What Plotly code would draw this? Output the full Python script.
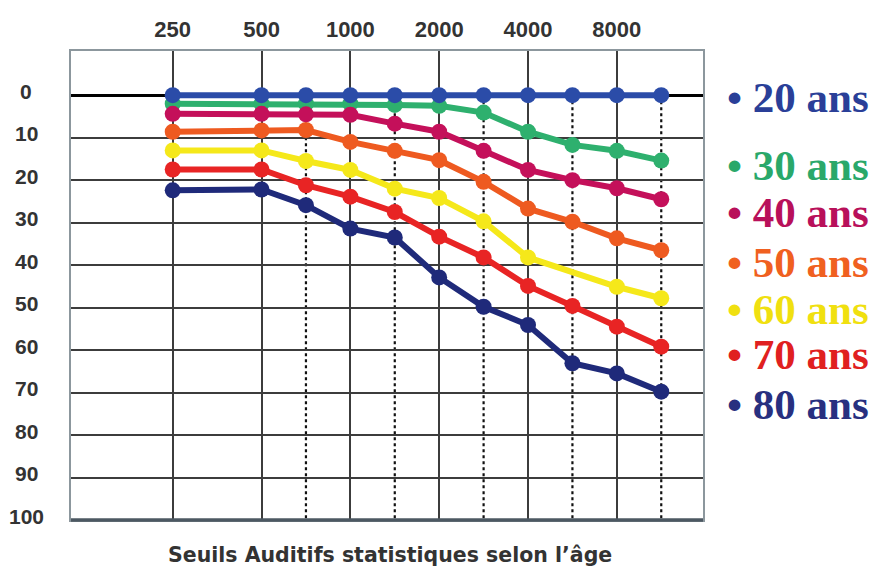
import math
import plotly.graph_objects as go

# ---------------- data ----------------
FREQS = [250, 500, 750, 1000, 1500, 2000, 3000, 4000, 6000, 8000, 12000]
TICK_FREQS = [250, 500, 1000, 2000, 4000, 8000]
TICK_LABELS = ["250", "500", "1000", "2000", "4000", "8000"]
DASHED_FREQS = [750, 1500, 3000, 6000, 12000]
DB_TICKS = [0, 10, 20, 30, 40, 50, 60, 70, 80, 90, 100]

AGES = ["20 ans", "30 ans", "40 ans", "50 ans", "60 ans", "70 ans", "80 ans"]
T20 = [0, 0, 0, 0, 0, 0, 0, 0, 0, 0, 0]
T30 = [2, 2, 2, 2, 2.3, 2.5, 4.1, 8.6, 11.7, 13.1, 15.4]
T40 = [4.4, 4.4, 4.5, 4.6, 6.7, 8.6, 13.1, 17.6, 20, 21.9, 24.5]
T50 = [8.6, 8.3, 8.2, 11, 13.1, 15.3, 20.4, 26.7, 29.8, 33.7, 36.5]
T60 = [13, 13, 15.5, 17.6, 22, 24.2, 29.7, 38.2, None, 45.1, 47.8]
T70 = [17.5, 17.5, 21.2, 23.9, 27.5, 33.3, 38.2, 44.9, 49.6, 54.5, 59.2]
T80 = [22.4, 22.2, 25.9, 31.4, 33.5, 42.9, 49.8, 54.1, 63.1, 65.5, 69.8]
SERIES = [T20, T30, T40, T50, T60, T70, T80]

LINE_COLORS = ["#2b4ca8", "#2eb06e", "#c4105a", "#ee5a20", "#f5e81a", "#e82424", "#1f2a7a"]
TEXT_COLORS = ["#2a3f98", "#2aa86a", "#b8105a", "#f06020", "#f0e010", "#e02020", "#283080"]
LEGEND_PY = [97, 165, 212, 262, 309, 354, 404]

TITLE = "Seuils Auditifs statistiques selon l’âge"


def pos(f):
    # half-octave audiogram position, 250 Hz = 0
    return round(2 * math.log2(f / 250)) / 2


OFF = 8  # page body margin
W, H = 883 - OFF, 568 - OFF
L, R, T, B = 71 - OFF, 883 - 703, 51 - OFF, 568 - 520
PW, PH = W - L - R, H - T - B


def px_x(px):
    return (px - OFF - L) / PW


def px_y(py):
    return (H - B - (py - OFF)) / PH


fig = go.Figure()

xs = [pos(f) for f in FREQS]
order = [1, 6, 5, 4, 3, 2, 0]
for i in order:
    fig.add_trace(go.Scatter(
        x=xs, y=SERIES[i], mode="lines+markers", name=AGES[i],
        connectgaps=True,
        line=dict(color=LINE_COLORS[i], width=6),
        marker=dict(color=LINE_COLORS[i], size=16),
        showlegend=False, hoverinfo="skip",
    ))

shapes = []
for f in DASHED_FREQS:
    shapes.append(dict(type="line", xref="x", yref="y", x0=pos(f), x1=pos(f),
                       y0=0, y1=100, layer="below",
                       line=dict(color="#111", width=2.2, dash="dot")))
shapes.append(dict(type="line", xref="paper", yref="paper", x0=0, x1=1, y0=0, y1=0,
                   line=dict(color="#4c5862", width=3.5)))

annotations = []
for v in DB_TICKS:
    annotations.append(dict(xref="paper", yref="y", x=px_x(26), y=v, yshift=4,
                            text=str(v), showarrow=False, xanchor="center", yanchor="middle",
                            font=dict(family="Liberation Sans", size=21, color="#333",
                                      weight=700)))
for i, a in enumerate(AGES):
    annotations.append(dict(xref="paper", yref="paper", x=px_x(725),
                            y=px_y(LEGEND_PY[i]),
                            text="• " + a, showarrow=False, xanchor="left", yanchor="middle",
                            font=dict(family="Liberation Serif", size=43, color=TEXT_COLORS[i],
                                      weight=700)))
annotations.append(dict(xref="paper", yref="paper", x=px_x(390), y=px_y(555),
                        text=TITLE, showarrow=False, xanchor="center", yanchor="middle",
                        font=dict(family="DejaVu Sans", size=20.5, color="#333", weight=700)))

fig.update_layout(
    width=W, height=H,
    margin=dict(l=L, r=R, t=T, b=B, autoexpand=False),
    paper_bgcolor="white", plot_bgcolor="white",
    shapes=shapes, annotations=annotations,
    xaxis=dict(
        side="top", range=[-1.145, 5.97], automargin=False,
        tickvals=[pos(f) for f in TICK_FREQS], ticktext=TICK_LABELS,
        ticks="outside", ticklen=3, tickcolor="rgba(0,0,0,0)",
        tickfont=dict(family="Liberation Sans", size=22, color="#333", weight=700),
        showgrid=True, gridcolor="#3c3c3c", gridwidth=1.6,
        showline=True, linecolor="#8c979d", linewidth=2, mirror=True,
        zeroline=False, fixedrange=True,
    ),
    yaxis=dict(
        range=[100, -10.4], tickvals=DB_TICKS, showticklabels=False, automargin=False,
        showgrid=True, gridcolor="#3c3c3c", gridwidth=1.6,
        showline=True, linecolor="#8c979d", linewidth=2, mirror=True,
        zeroline=True, zerolinecolor="#000", zerolinewidth=3, fixedrange=True,
    ),
)

fig.write_html("out.html")
